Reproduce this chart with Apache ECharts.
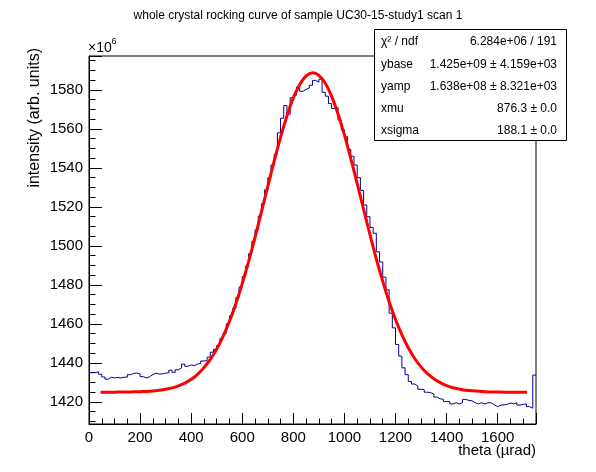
<!DOCTYPE html>
<html><head><meta charset="utf-8">
<script src="https://cdn.jsdelivr.net/npm/echarts@6/dist/echarts.min.js"></script>
<style>html,body{margin:0;padding:0;background:#fff}#c{width:596px;height:472px}</style>
</head><body><div id="c"></div>
<script>
// histogram: bin width in theta (µrad), bins start at 0
const binWidth = 12.5;
const counts = [
1435.0,1435.0,1435.5,1434.2,1432.8,1431.7,1432.7,1432.3,1432.6,1432.3,
1432.7,1432.7,1434.0,1434.6,1434.8,1434.3,1433.0,1432.3,1433.0,1434.0,
1434.8,1434.3,1434.4,1434.8,1434.9,1436.3,1435.2,1436.5,1437.5,1439.4,
1438.3,1439.0,1438.6,1439.4,1439.8,1441.0,1441.2,1443.0,1445.5,1447.0,
1449.0,1452.5,1455.2,1460.0,1464.2,1468.0,1473.6,1478.9,1484.3,1489.5,
1496.0,1502.4,1508.2,1515.3,1521.6,1528.8,1535.0,1541.5,1547.0,1558.0,
1565.5,1572.0,1567.5,1576.0,1577.3,1581.5,1579.3,1580.3,1581.0,1582.4,
1584.9,1584.0,1585.5,1578.8,1576.8,1573.0,1570.5,1571.0,1564.5,1559.5,
1556.0,1549.5,1546.0,1541.5,1535.0,1528.5,1521.0,1515.0,1509.5,1506.5,
1497.0,1491.8,1484.0,1477.5,1465.5,1458.0,1449.5,1443.5,1437.5,1434.0,
1430.5,1429.2,1428.2,1426.5,1426.3,1425.0,1424.8,1424.1,1422.5,1421.6,
1421.4,1420.2,1420.2,1419.0,1419.6,1419.0,1419.6,1421.3,1420.8,1420.6,
1419.6,1419.0,1419.6,1419.0,1419.6,1419.5,1418.5,1417.6,1418.4,1418.5,
1418.8,1419.5,1419.0,1419.6,1418.4,1418.8,1419.0,1417.6,1416.8,1433.8
];
// fit curve
const fitTheta = [45,75,100,125,150,175,200,225,250,275,300,325,350,375,400,425,450,475,500,525,550,575,600,625,650,675,700,725,750,775,800,825,850,875,900,925,950,975,1000,1025,1050,1075,1100,1125,1150,1175,1200,1225,1250,1275,1300,1325,1350,1375,1400,1425,1450,1475,1500,1550,1600,1650,1715];
const fitValue = [1425.0,1425.0,1425.0,1425.1,1425.1,1425.2,1425.3,1425.4,1425.6,1426.0,1426.5,1427.2,1428.3,1429.7,1431.6,1434.2,1437.6,1441.8,1447.1,1453.6,1461.4,1470.4,1480.7,1492.1,1504.4,1517.4,1530.6,1543.5,1555.7,1566.7,1575.9,1582.8,1587.2,1588.8,1587.5,1583.4,1576.7,1567.7,1557.0,1544.8,1531.9,1518.8,1505.8,1493.3,1481.8,1471.4,1462.3,1454.4,1447.8,1442.3,1438.0,1434.5,1431.9,1429.9,1428.4,1427.3,1426.6,1426.0,1425.7,1425.3,1425.1,1425.0,1425.0];
const xTickLabels = [0,200,400,600,800,1000,1200,1400,1600];
const yTickLabels = [1420,1440,1460,1480,1500,1520,1540,1560,1580];
const statNames = ['χ² / ndf','ybase','yamp','xmu','xsigma'];
const statValues = ['6.284e+06 / 191','1.425e+09 ± 4.159e+03','1.638e+08 ± 8.321e+03','876.3 ± 0.0','188.1 ± 0.0'];

const FONT = '"Liberation Sans", Arial, Helvetica, sans-serif';
const histData = counts.map((v, i) => [i * binWidth, v]);
histData.push([counts.length * binWidth, counts[counts.length - 1]]);
const fitData = fitTheta.map((t, i) => [t, fitValue[i]]);

const chart = echarts.init(document.getElementById('c'), null, {renderer: 'canvas'});
const statGraphics = [{
  type: 'rect', shape: {x: 374.5, y: 29.5, width: 192, height: 111},
  style: {fill: '#fff', stroke: '#000', lineWidth: 1}, z: 100
}];
statNames.forEach((n, i) => {
  const y = 42 + i * 22.2;
  statGraphics.push({type: 'text', x: 381, y: y, z: 101,
    style: {text: n, font: '12px ' + FONT, fill: '#000', align: 'left', verticalAlign: 'middle'}});
  statGraphics.push({type: 'text', x: 557, y: y, z: 101,
    style: {text: statValues[i], font: '12px ' + FONT, fill: '#000', align: 'right', verticalAlign: 'middle'}});
});

chart.setOption({
  animation: false,
  backgroundColor: '#fff',
  title: {
    text: 'whole crystal rocking curve of sample UC30-15-study1 scan 1',
    left: 'center', top: 5,
    textStyle: {fontFamily: FONT, fontSize: 12, fontWeight: 'normal', color: '#000'}
  },
  grid: {left: 89, top: 56, width: 447, height: 368, show: true, borderColor: '#000', borderWidth: 1,
         backgroundColor: 'transparent', outerBoundsMode: 'none', containLabel: false},
  xAxis: {
    type: 'value', min: 0, max: 1750, minInterval: 200, maxInterval: 200, splitNumber: 9,
    axisLine: {show: true, onZero: false, lineStyle: {color: '#000', width: 1}},
    axisTick: {show: true, inside: true, length: 11, lineStyle: {color: '#000', width: 1}},
    minorTick: {show: true, splitNumber: 4, length: 5.5, lineStyle: {color: '#000', width: 1}},
    splitLine: {show: false}, minorSplitLine: {show: false},
    axisLabel: {margin: 6, fontFamily: FONT, fontSize: 15, color: '#000',
      showMinLabel: true, showMaxLabel: true,
      formatter: v => (xTickLabels.some(t => Math.abs(t - v) < 1e-6) ? String(Math.round(v)) : '')}
  },
  yAxis: {
    type: 'value', min: 1408.7, max: 1597.4, minInterval: 20, maxInterval: 20, splitNumber: 9,
    axisLine: {show: true, onZero: false, lineStyle: {color: '#000', width: 1}},
    axisTick: {show: true, inside: true, length: 13, lineStyle: {color: '#000', width: 1}},
    minorTick: {show: true, splitNumber: 4, length: 6.5, lineStyle: {color: '#000', width: 1}},
    splitLine: {show: false}, minorSplitLine: {show: false},
    axisLabel: {margin: 6, fontFamily: FONT, fontSize: 15, color: '#000',
      formatter: v => (yTickLabels.some(t => Math.abs(t - v) < 1e-6) ? String(Math.round(v)) : '')}
  },
  series: [
    {type: 'line', data: histData, step: 'end', showSymbol: false, symbol: 'none',
     lineStyle: {color: '#000099', width: 1}, clip: true, z: 2, silent: true},
    {type: 'line', data: fitData, smooth: 0.3, showSymbol: false, symbol: 'none',
     lineStyle: {color: '#ff0000', width: 3}, clip: true, z: 3, silent: true}
  ],
  graphic: [
    {type: 'text', x: 536, y: 451, style: {text: 'theta (µrad)', font: '15px ' + FONT, fill: '#000', align: 'right', verticalAlign: 'middle'}},
    {type: 'text', x: 35, y: 48, rotation: Math.PI / 2, style: {text: 'intensity (arb. units)', font: '16px ' + FONT, fill: '#000', align: 'right', verticalAlign: 'middle'}},
    {type: 'text', x: 88, y: 48, style: {text: '×10', font: '14px ' + FONT, fill: '#000', align: 'left', verticalAlign: 'middle'}},
    {type: 'text', x: 111.5, y: 41.5, style: {text: '6', font: '9px ' + FONT, fill: '#000', align: 'left', verticalAlign: 'middle'}}
  ].concat(statGraphics)
});
</script></body></html>
